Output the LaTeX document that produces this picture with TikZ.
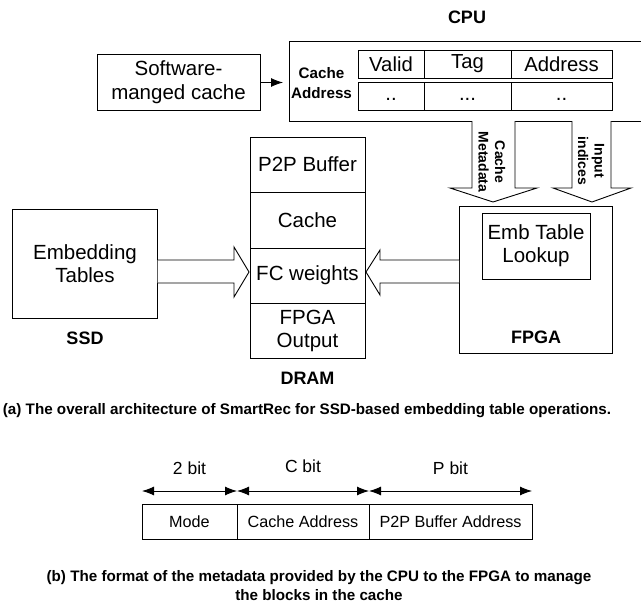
\documentclass[tikz,border=0pt]{standalone}
\usepackage{fontspec}
\setmainfont{Liberation Sans}
\usetikzlibrary{arrows.meta,positioning}

\begin{document}
\begin{tikzpicture}[x=1pt,y=-1pt,>={Latex[length=12pt,width=9pt]},line width=0.9pt]

        \tikzstyle{box}=[draw, rectangle, inner sep=0pt, outer sep=0pt, align=center, font=\fontsize{20.5}{23}\selectfont]
        \tikzstyle{cell}=[box, minimum height=28pt, font=\fontsize{20.3}{22}\selectfont]
        \tikzstyle{field}=[box, minimum height=35pt, font=\fontsize{16.2}{19}\selectfont]
        \tikzstyle{title}=[font=\bfseries\fontsize{18}{21}\selectfont]
        \tikzstyle{tag}=[font=\bfseries\fontsize{14}{16.5}\selectfont, align=center, rotate=-90]
        \tikzstyle{width}=[font=\fontsize{17.5}{20}\selectfont]
        \tikzstyle{caption}=[font=\bfseries\fontsize{15.2}{19}\selectfont, align=center]
        \tikzstyle{fat}=[draw, fill=white, line join=miter]

        \useasboundingbox (0,0) rectangle (641,605);

        % (a) CPU side
        \node[box, minimum width=163pt, minimum height=56pt, font=\fontsize{20.5}{24}\selectfont] (sw) at (178.5,82.5) {Software-\\manged cache};
        \node[minimum width=356pt, minimum height=80pt, inner sep=0pt, outer sep=0pt] (cpu) at (467,81) {};
        \draw (cpu.north east) -- (cpu.north west) -- (cpu.south west) -- (cpu.south east);
        \node[title] (cpuname) at (467,17) {CPU};
        \node[font=\bfseries\fontsize{15.2}{20}\selectfont, align=center] (cacheaddr) at (321.5,83) {Cache\\Address};

        \node[cell, minimum width=66pt]              (valid)  at (391,64) {Valid};
        \node[cell, minimum width=87pt,  right=0pt of valid] (tag)  {Tag};
        \node[cell, minimum width=101pt, right=0pt of tag]   (addr) {Address};
        \node[cell, minimum width=66pt,  below=4pt of valid] (valid2) {\strut..};
        \node[cell, minimum width=87pt,  right=0pt of valid2] (tag2)  {\strut...};
        \node[cell, minimum width=101pt, right=0pt of tag2]   (addr2) {\strut..};

        \draw[->, shorten >=6pt] (sw) -- (cpu.west |- sw);

        % DRAM column
        \node[box, minimum width=115pt, minimum height=55pt] (p2p) at (307.5,164.5) {P2P Buffer};
        \node[box, minimum width=115pt, minimum height=56pt, below=0pt of p2p]   (cache) {Cache};
        \node[box, minimum width=115pt, minimum height=55pt, below=0pt of cache] (fc)    {FC weights};
        \node[box, minimum width=115pt, minimum height=55pt, below=0pt of fc]    (out)   {FPGA\\Output};
        \node[title] (dramname) at (307.5,378) {DRAM};

        % SSD and FPGA
        \node[box, minimum width=145pt, minimum height=109pt] (ssd) at (85,263.5) {Embedding\\Tables};
        \node[title] (ssdname) at (85,338) {SSD};

        \node[box, minimum width=153pt, minimum height=147pt] (fpga) at (535.5,279.5) {};
        \node[box, minimum width=108pt, minimum height=66pt] (emb) at (536,246) {Emb Table\\Lookup};
        \node[title] (fpganame) at (536,337) {FPGA};

        % block arrows
        \draw[fat] (ssd.east |- 0,260) -- (234,260) -- (234,247) -- (249,272)
                   -- (234,297) -- (234,283) -- (ssd.east |- 0,283);
        \draw[fat] (fpga.west |- 0,260) -- (380,260) -- (380,250) -- (366,272)
                   -- (380,295) -- (380,283) -- (fpga.west |- 0,283);
        \draw[fat] (cpu.south -| 472,0) -- (472,188) -- (450,188) -- (493,202)
                   -- (537,188) -- (515,188) -- (cpu.south -| 515,0);
        \draw[fat] (cpu.south -| 572,0) -- (572,188) -- (553,188) -- (592,202)
                   -- (631,188) -- (611,188) -- (cpu.south -| 611,0);
        \node[tag] (meta) at (492,162) {Cache\\Metadata};
        \node[tag] (idx)  at (591,161) {Input\\indices};

        \node[caption] (capa) at (307,411) {(a) The overall architecture of SmartRec for SSD-based embedding table operations.};

        % (b) metadata format
        \node[field, minimum width=95pt]  (mode)  at (189.5,521.5) {Mode};
        \node[field, minimum width=132pt, right=0pt of mode]  (caddr) {Cache Address};
        \node[field, minimum width=163pt, right=0pt of caddr] (paddr) {P2P Buffer Address};

        \draw[<->] ([yshift=13pt]mode.north west) -- ([yshift=13pt]mode.north east)
              node[width, midway, yshift=23pt] (w2) {2 bit};
        \draw[<->] ([yshift=13pt]caddr.north west) -- ([yshift=13pt]caddr.north east)
              node[width, midway, yshift=25pt] (wc) {C bit};
        \draw[<->] ([yshift=13pt]paddr.north west) -- ([yshift=13pt]paddr.north east)
              node[width, midway, yshift=23pt] (wp) {P bit};

        \node[caption] (capb) at (319,585.5) {(b) The format of the metadata provided by the CPU to the FPGA to manage\\the blocks in the cache};

\end{tikzpicture}
\end{document}
